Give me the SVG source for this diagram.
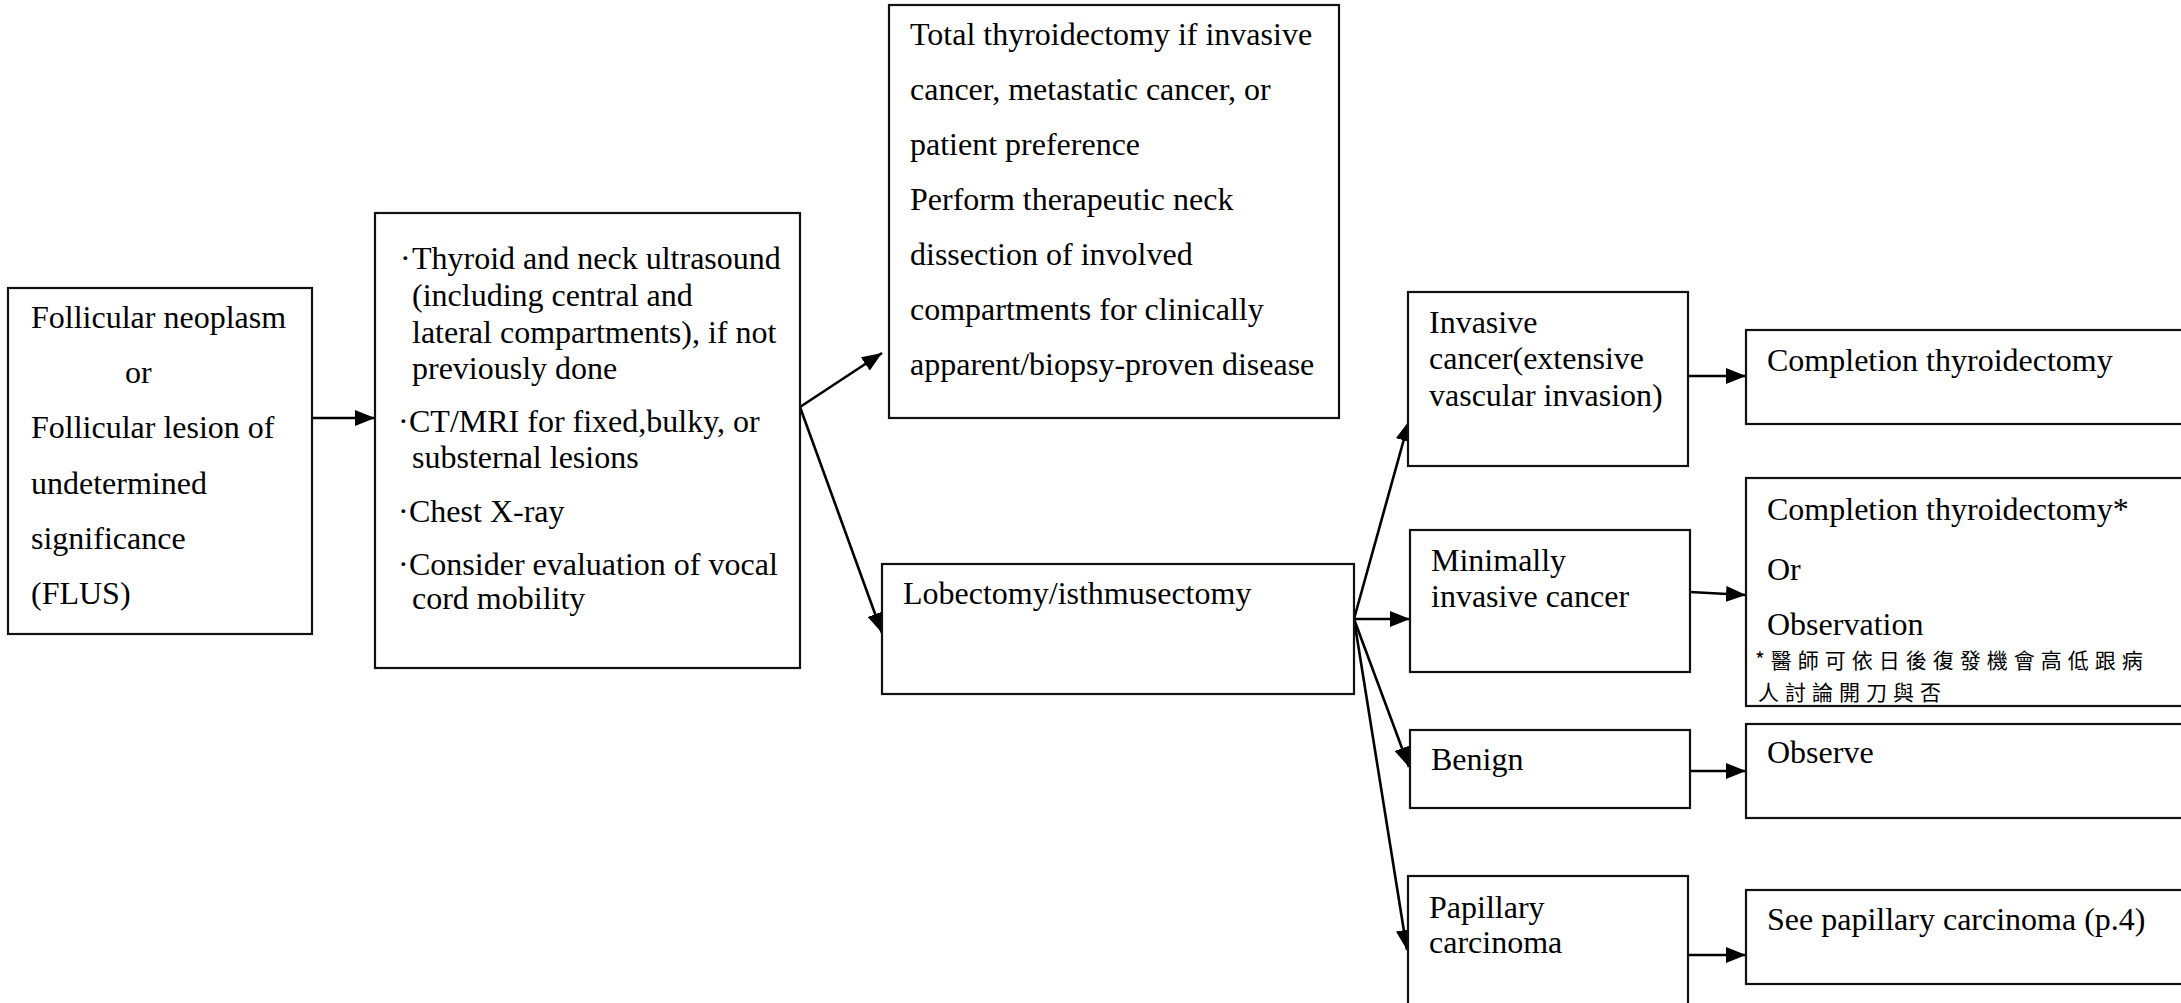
<svg xmlns="http://www.w3.org/2000/svg" width="2181" height="1003" viewBox="0 0 2181 1003">
<defs>
<style>
.box{fill:#fff;stroke:#111;stroke-width:2.2}
.t{font-family:"Liberation Serif","Times New Roman",serif;font-size:32px;fill:#000}
.cjk{font-family:"Noto Sans CJK TC","Noto Sans CJK SC",sans-serif;font-size:21px;fill:#000;letter-spacing:6px}
.c{fill:none;stroke:#000;stroke-width:2.6}
</style>
<marker id="ah" markerUnits="userSpaceOnUse" markerWidth="20" markerHeight="16" refX="20" refY="8" orient="auto">
<path d="M0,0 L20,8 L0,16 z" fill="#000"/>
</marker>
</defs>
<rect x="0" y="0" width="2181" height="1003" fill="#fff"/>

<g id="connectors">
<line class="c" x1="313" y1="418" x2="375" y2="418" marker-end="url(#ah)"/>
<line class="c" x1="800" y1="407" x2="882" y2="353" marker-end="url(#ah)"/>
<line class="c" x1="800" y1="407" x2="882" y2="633" marker-end="url(#ah)"/>
<line class="c" x1="1354" y1="619" x2="1409" y2="421" marker-end="url(#ah)"/>
<line class="c" x1="1354" y1="619" x2="1410" y2="619" marker-end="url(#ah)"/>
<line class="c" x1="1354" y1="619" x2="1409" y2="767" marker-end="url(#ah)"/>
<line class="c" x1="1354" y1="619" x2="1407" y2="950" marker-end="url(#ah)"/>
<line class="c" x1="1688" y1="376" x2="1746" y2="376" marker-end="url(#ah)"/>
<line class="c" x1="1690" y1="592" x2="1746" y2="595" marker-end="url(#ah)"/>
<line class="c" x1="1690" y1="771" x2="1746" y2="771" marker-end="url(#ah)"/>
<line class="c" x1="1688" y1="955" x2="1746" y2="955" marker-end="url(#ah)"/>
</g>

<g id="n1">
<rect class="box" x="8" y="288" width="304" height="346"/>
<text class="t" x="31" y="328">Follicular neoplasm</text>
<text class="t" x="125" y="383">or</text>
<text class="t" x="31" y="438">Follicular lesion of</text>
<text class="t" x="31" y="494">undetermined</text>
<text class="t" x="31" y="549">significance</text>
<text class="t" x="31" y="604">(FLUS)</text>
</g>

<g id="n2">
<rect class="box" x="375" y="213" width="425" height="455"/>
<text class="t" x="400" y="269">·</text>
<text class="t" x="412" y="269">Thyroid and neck ultrasound</text>
<text class="t" x="412" y="306">(including central and</text>
<text class="t" x="412" y="343">lateral compartments), if not</text>
<text class="t" x="412" y="379">previously done</text>
<text class="t" x="398" y="432">·</text>
<text class="t" x="409" y="432">CT/MRI for fixed,bulky, or</text>
<text class="t" x="412" y="468">substernal lesions</text>
<text class="t" x="398" y="522">·</text>
<text class="t" x="409" y="522">Chest X-ray</text>
<text class="t" x="398" y="575">·</text>
<text class="t" x="409" y="575">Consider evaluation of vocal</text>
<text class="t" x="412" y="609">cord mobility</text>
</g>

<g id="n3">
<rect class="box" x="889" y="5" width="450" height="413"/>
<text class="t" x="910" y="45">Total thyroidectomy if invasive</text>
<text class="t" x="910" y="100">cancer, metastatic cancer, or</text>
<text class="t" x="910" y="155">patient preference</text>
<text class="t" x="910" y="210">Perform therapeutic neck</text>
<text class="t" x="910" y="265">dissection of involved</text>
<text class="t" x="910" y="320">compartments for clinically</text>
<text class="t" x="910" y="375">apparent/biopsy-proven disease</text>
</g>

<g id="n4">
<rect class="box" x="882" y="564" width="472" height="130"/>
<text class="t" x="903" y="604">Lobectomy/isthmusectomy</text>
</g>

<g id="n5">
<rect class="box" x="1408" y="292" width="280" height="174"/>
<text class="t" x="1429" y="333">Invasive</text>
<text class="t" x="1429" y="369">cancer(extensive</text>
<text class="t" x="1429" y="406">vascular invasion)</text>
</g>

<g id="n6">
<rect class="box" x="1410" y="530" width="280" height="142"/>
<text class="t" x="1431" y="571">Minimally</text>
<text class="t" x="1431" y="607">invasive cancer</text>
</g>

<g id="n7">
<rect class="box" x="1410" y="730" width="280" height="78"/>
<text class="t" x="1431" y="770">Benign</text>
</g>

<g id="n8">
<rect class="box" x="1408" y="876" width="280" height="140"/>
<text class="t" x="1429" y="918">Papillary</text>
<text class="t" x="1429" y="953">carcinoma</text>
</g>

<g id="n9">
<rect class="box" x="1746" y="330" width="460" height="94"/>
<text class="t" x="1767" y="371">Completion thyroidectomy</text>
</g>

<g id="n10">
<rect class="box" x="1746" y="478" width="460" height="228"/>
<text class="t" x="1767" y="520">Completion thyroidectomy*</text>
<text class="t" x="1767" y="580">Or</text>
<text class="t" x="1767" y="635">Observation</text>
<text class="cjk" x="1755" y="668">*醫師可依日後復發機會高低跟病</text>
<text class="cjk" x="1758" y="700">人討論開刀與否</text>
</g>

<g id="n11">
<rect class="box" x="1746" y="724" width="460" height="94"/>
<text class="t" x="1767" y="763">Observe</text>
</g>

<g id="n12">
<rect class="box" x="1746" y="890" width="460" height="94"/>
<text class="t" x="1767" y="930">See papillary carcinoma (p.4)</text>
</g>
</svg>
